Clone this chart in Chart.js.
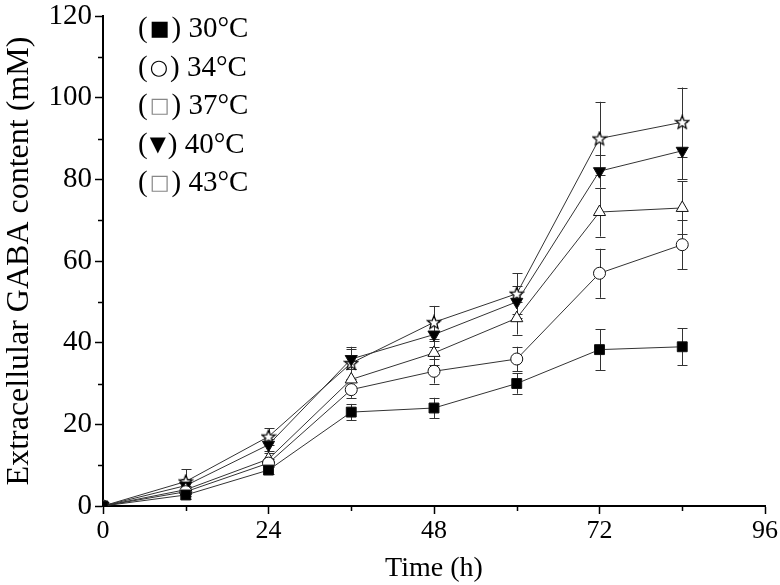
<!DOCTYPE html>
<html>
<head>
<meta charset="utf-8">
<script src="https://cdn.jsdelivr.net/npm/chart.js@4"></script>
<style>
    html, body { margin: 0; padding: 0; background: #fff; }
    #wrap { width: 780px; height: 585px; }
</style>
</head>
<body>
<div id="wrap"><canvas id="grafico" width="780" height="585"></canvas></div>
<script>
// dados
const tempos = [0, 12, 24, 36, 48, 60, 72, 84]
const rotulos = ['30°C', '34°C', '37°C', '40°C', '43°C']
const simbolos = ['■', '○', '□', '▼', '□']

const gaba30 = [0, 2.7, 8.8, 23, 24, 30, 38.3, 39]
const gaba34 = [0, 3.5, 10.5, 28.5, 33, 36, 57, 64]
const gaba37 = [0, 4, 11.5, 31, 37.5, 46, 72, 73]
const gaba40 = [0, 5, 15, 36, 42, 50, 82, 87]
const gaba43 = [0, 6, 17, 35, 45, 52, 90, 94]

const erro30 = [0, 1, 1, 2, 2.5, 2.5, 5, 4.5]
const erro34 = [0, 1, 1, 2, 3, 3, 6, 6]
const erro37 = [0, 1, 1.5, 2.5, 3, 4, 6, 6.5]
const erro40 = [0, 1.5, 1.5, 2.5, 3, 4, 4, 7]
const erro43 = [0, 3, 2, 4, 4, 5, 9, 8.5]

const ticksY = [0, 20, 40, 60, 80, 100, 120]
const ticksX = [0, 24, 48, 72, 96]
const minorY = [10, 30, 50, 70, 90, 110]
const minorX = [12, 36, 60, 84]

const fonte = '"Liberation Serif", "Times New Roman", serif'

function pontos(valores) {
    return tempos.map((t, i) => ({ x: t, y: valores[i] }))
}

// estrela aberta de 5 pontas
function estrela() {
    const c = document.createElement('canvas')
    c.width = 16
    c.height = 16
    const g = c.getContext('2d')
    g.beginPath()
    for (let k = 0; k < 10; k++) {
        const r = k % 2 === 0 ? 7 : 3
        const a = -Math.PI / 2 + k * Math.PI / 5
        const px = 8 + r * Math.cos(a)
        const py = 8.5 + r * Math.sin(a)
        if (k === 0) g.moveTo(px, py); else g.lineTo(px, py)
    }
    g.closePath()
    g.fillStyle = '#fff'
    g.fill()
    g.strokeStyle = '#000'
    g.lineWidth = 1.2
    g.stroke()
    return c
}

const erros = [erro30, erro34, erro37, erro40, erro43]

const barrasErro = {
    id: 'barrasErro',
    beforeDatasetsDraw(chart) {
        const ctx = chart.ctx
        const xs = chart.scales.x
        const ys = chart.scales.y
        ctx.save()
        ctx.strokeStyle = '#333'
        ctx.lineWidth = 1
        chart.data.datasets.forEach((ds, i) => {
            ds.data.forEach((p, j) => {
                const e = erros[i][j]
                if (!e) return
                const x = Math.round(xs.getPixelForValue(p.x)) + 0.5
                const y1 = ys.getPixelForValue(p.y + e)
                const y2 = ys.getPixelForValue(p.y - e)
                ctx.beginPath()
                ctx.moveTo(x, y1)
                ctx.lineTo(x, y2)
                ctx.moveTo(x - 5, Math.round(y1) + 0.5)
                ctx.lineTo(x + 5, Math.round(y1) + 0.5)
                ctx.moveTo(x - 5, Math.round(y2) + 0.5)
                ctx.lineTo(x + 5, Math.round(y2) + 0.5)
                ctx.stroke()
            })
        })
        ctx.restore()
    },
    afterDraw(chart) {
        const ctx = chart.ctx
        const xs = chart.scales.x
        const ys = chart.scales.y
        const area = chart.chartArea
        ctx.save()
        // ticks menores
        ctx.strokeStyle = '#000'
        ctx.lineWidth = 1.5
        ctx.beginPath()
        minorY.forEach(v => {
            const y = Math.round(ys.getPixelForValue(v)) + 0.5
            ctx.moveTo(area.left - 5, y)
            ctx.lineTo(area.left, y)
        })
        minorX.forEach(v => {
            const x = Math.round(xs.getPixelForValue(v)) + 0.5
            ctx.moveTo(x, area.bottom)
            ctx.lineTo(x, area.bottom + 5)
        })
        ctx.stroke()

        // legenda
        ctx.font = '29px ' + fonte
        ctx.textBaseline = 'alphabetic'
        let y = 37
        rotulos.forEach((r, i) => {
            let x = 138
            ctx.fillStyle = '#000'
            ctx.fillText('(', x, y)
            x += ctx.measureText('(').width + 2
            ctx.font = '21px "DejaVu Sans", sans-serif'
            ctx.fillStyle = simbolos[i] === '□' ? '#888' : '#000'
            ctx.fillText(simbolos[i], x, y - 2)
            x += ctx.measureText(simbolos[i]).width + 2
            ctx.font = '29px ' + fonte
            ctx.fillStyle = '#000'
            ctx.fillText(') ' + r, x, y)
            y += 38.5
        })
        ctx.restore()
    }
}

const comum = {
    borderColor: '#333',
    borderWidth: 1,
    tension: 0,
    pointBorderColor: '#111',
    pointBorderWidth: 1,
    showLine: true
}

new Chart(document.getElementById('grafico').getContext('2d'), {
    type: 'scatter',
    data: {
        datasets: [
            { ...comum, label: rotulos[0], data: pontos(gaba30), pointStyle: 'rect', pointRadius: 7, pointBackgroundColor: '#000' },
            { ...comum, label: rotulos[1], data: pontos(gaba34), pointStyle: 'circle', pointRadius: 6, pointBackgroundColor: '#fff' },
            { ...comum, label: rotulos[2], data: pontos(gaba37), pointStyle: 'triangle', pointRadius: 7, pointBackgroundColor: '#fff' },
            { ...comum, label: rotulos[3], data: pontos(gaba40), pointStyle: 'triangle', pointRotation: 180, pointRadius: 7, pointBackgroundColor: '#000' },
            { ...comum, label: rotulos[4], data: pontos(gaba43), pointStyle: estrela(), pointRadius: 7, pointBackgroundColor: '#fff' }
        ]
    },
    options: {
        responsive: false,
        animation: false,
        layout: { padding: { top: 16, right: 13, left: 0, bottom: 0 } },
        plugins: {
            legend: { display: false },
            tooltip: { enabled: false }
        },
        scales: {
            x: {
                type: 'linear',
                min: 0,
                max: 96,
                afterFit: s => { s.height = 79 },
                afterBuildTicks: s => { s.ticks = ticksX.map(v => ({ value: v })) },
                border: { display: true, color: '#000', width: 2 },
                grid: { drawOnChartArea: false, drawTicks: true, tickLength: 8, tickColor: '#000', tickWidth: 1.5 },
                ticks: { color: '#000', font: { family: fonte, size: 26 }, padding: 2 },
                title: { display: true, text: 'Time (h)', color: '#000', font: { family: fonte, size: 28 }, padding: { top: 4, bottom: 0 } }
            },
            y: {
                min: 0,
                max: 120,
                afterFit: s => { s.width = 103 },
                afterBuildTicks: s => { s.ticks = ticksY.map(v => ({ value: v })) },
                border: { display: true, color: '#000', width: 2 },
                grid: { drawOnChartArea: false, drawTicks: true, tickLength: 8, tickColor: '#000', tickWidth: 1.5 },
                ticks: { color: '#000', font: { family: fonte, size: 29, lineHeight: 0.9 }, padding: 3 },
                title: { display: true, text: 'Extracellular GABA content (mM)', color: '#000', font: { family: fonte, size: 32 }, padding: { top: 0, bottom: 0 } }
            }
        }
    },
    plugins: [barrasErro]
})
</script>
</body>
</html>
